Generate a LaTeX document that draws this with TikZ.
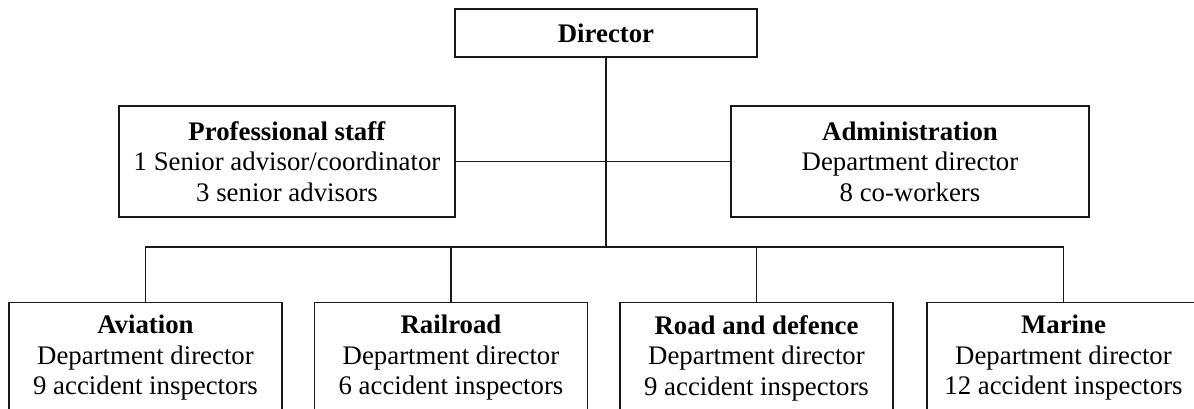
\documentclass[tikz,border=0pt]{standalone}
\usepackage{fontspec}
\setmainfont{Liberation Serif}
\begin{document}
\begin{tikzpicture}[x=1pt,y=-1pt,
  unit/.style={draw=black!90, line width=1.8pt, inner sep=0pt, align=center,
    font=\fontsize{26.8pt}{30.5pt}\selectfont},
  topbox/.style={unit, minimum width=302pt, minimum height=48pt},
  staffbox/.style={unit, minimum height=111pt},
  deptbox/.style={unit, minimum width=273pt, minimum height=111pt},
  link/.style={draw=black!90, line width=1.8pt}]
\useasboundingbox (0,0) rectangle (1194,409);

% director
\node[topbox] (dir) at (606,33) {\textbf{Director}};

% staff units beside the director line
\node[staffbox, minimum width=336pt] (pro) at (287,161.5)
  {\textbf{Professional staff}\\1 Senior advisor/coordinator\\3 senior advisors};
\node[staffbox, minimum width=358pt] (adm) at (910,161.5)
  {\textbf{Administration}\\Department director\\8 co-workers};

% departments
\node[deptbox] (av)   at (145.5,358) {\textbf{Aviation}\\Department director\\9 accident inspectors};
\node[deptbox] (rail) at (451,358)   {\textbf{Railroad}\\Department director\\6 accident inspectors};
\node[deptbox] (road) at (756.5,358) {\textbf{Road and defence}\\Department director\\9 accident inspectors};
\node[deptbox] (mar)  at (1063.5,358){\textbf{Marine}\\Department director\\12 accident inspectors};

% connectors
\coordinate (bus) at (606,247);
\draw[link] (dir.south) -- (bus);
\draw[link] (pro.east) -- (adm.west);
\draw[link] (av.north) -- (av.north |- bus) -- (mar.north |- bus) -- (mar.north);
\draw[link] (rail.north) -- (rail.north |- bus);
\draw[link] (road.north) -- (road.north |- bus);
\end{tikzpicture}
\end{document}
